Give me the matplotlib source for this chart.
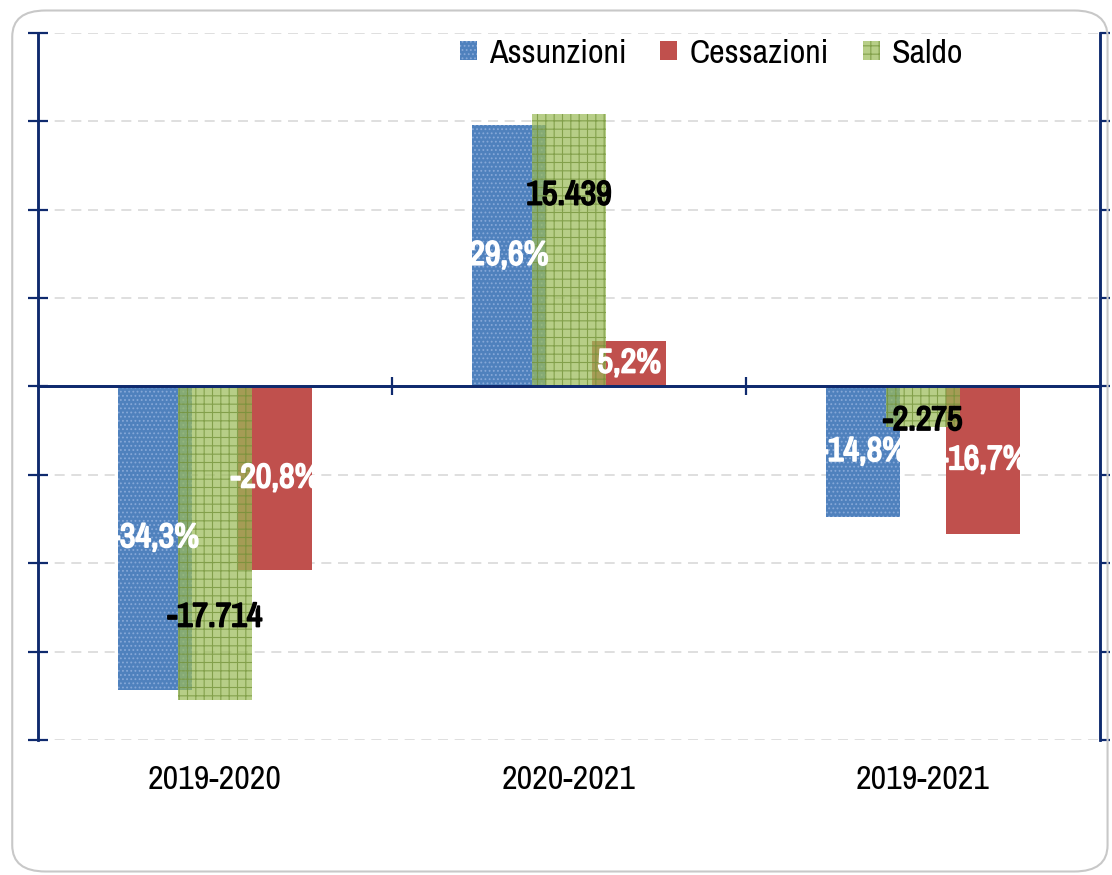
import matplotlib.pyplot as plt
import matplotlib.patheffects as pe
from matplotlib.patches import FancyBboxPatch
import numpy as np

plt.rcParams['font.family'] = ['Archivo Narrow', 'DejaVu Sans']
plt.rcParams['hatch.linewidth'] = 0.8

periodi = ['2019-2020', '2020-2021', '2019-2021']
assunzioni = [-34.3, 29.6, -14.8]   # variazione %
cessazioni = [-20.8, 5.2, -16.7]    # variazione %
saldo = [-17714, 15439, -2275]      # valori assoluti (asse destro)

blu = '#4f81bd'
rosso = '#c0504d'
verde = '#9bbb59'
navy = '#0f2a6e'

x = np.arange(len(periodi))
w = 0.21
off = 0.17

fig = plt.figure(figsize=(11.12, 8.75), dpi=100)
# cornice arrotondata
fig.patches.append(FancyBboxPatch((0.011, 0.004), 0.985, 0.984, boxstyle='round,pad=0,rounding_size=0.03',
                                  transform=fig.transFigure, fc='none', ec='#c8c8c8', lw=1.5))

ax = fig.add_axes([0.0342, 0.1543, 0.955, 0.808])
ax2 = ax.twinx()

ax.bar(x - off, assunzioni, w, color=blu, edgecolor='#86a8d8', linewidth=0, hatch='....', label='Assunzioni')
ax.bar(x + off, cessazioni, w, color=rosso, linewidth=0, label='Cessazioni')
ax2.bar(x, saldo, w, color=verde, edgecolor='#6f8f35', linewidth=0, hatch='++', alpha=0.72, label='Saldo')

ax.set_xlim(-0.5, 2.5)
ax.set_ylim(-40, 40)
ax2.set_ylim(-20000, 20000)
ax.set_yticks(np.arange(-40, 41, 10))
ax2.set_yticks(np.arange(-20000, 20001, 5000))
ax.set_yticklabels([])
ax2.set_yticklabels([])

ax.set_axisbelow(True)
ax.grid(axis='y', color='#d9d9d9', linestyle=(0, (6, 4)), linewidth=1.2)
ax.set_xticks(x)
ax.set_xticklabels(periodi, fontsize=24.5)
ax.tick_params(axis='x', length=0, pad=18)

for a in (ax, ax2):
    a.spines['top'].set_visible(False)
    a.spines['bottom'].set_visible(False)
    a.spines['left'].set_color(navy)
    a.spines['right'].set_color(navy)
    a.spines['left'].set_linewidth(1.8)
    a.spines['right'].set_linewidth(1.8)
ax.tick_params(axis='y', direction='inout', length=14, width=1.6, color=navy)
ax2.tick_params(axis='y', direction='out', length=7, width=1.6, color=navy)

# asse dello zero con tacche tra le categorie
ax2.axhline(0, color=navy, linewidth=2, zorder=5)
zero = ax2.secondary_xaxis(0.5)
for s in zero.spines.values():
    s.set_color(navy)
    s.set_linewidth(2)
zero.set_xticks([])
zero.set_xticks([0.5, 1.5], minor=True)
zero.tick_params(which='minor', direction='inout', length=13, width=1.6, color=navy)
zero.set_zorder(5)

# etichette (grassetto simulato con un contorno)
bold_w = [pe.withStroke(linewidth=1.3, foreground='white')]
bold_k = [pe.withStroke(linewidth=1.3, foreground='black')]
for xi, v in zip(x - off, assunzioni):
    ax2.text(xi, v / 2, f"{v:.1f}%".replace('.', ','), transform=ax.transData, ha='center', va='center',
             color='white', fontsize=24.5, fontweight='bold', zorder=6, path_effects=bold_w)
for xi, v in zip(x + off, cessazioni):
    ax2.text(xi, v / 2, f"{v:.1f}%".replace('.', ','), transform=ax.transData, ha='center', va='center',
             color='white', fontsize=24.5, fontweight='bold', zorder=6, path_effects=bold_w)
for xi, v in zip(x, saldo):
    ax2.annotate(f"{v:,}".replace(',', '.'), (xi, v * 0.72), xytext=(0, -4), textcoords='offset points',
                 ha='center', va='center', color='black', fontsize=24.5, fontweight='bold', zorder=6,
                 path_effects=bold_k)

h1, l1 = ax.get_legend_handles_labels()
h2, l2 = ax2.get_legend_handles_labels()
leg = ax2.legend(h1 + h2, l1 + l2, loc='upper center', bbox_to_anchor=(0.634, 1.035), ncol=3, frameon=False,
                 fontsize=24.5, handlelength=0.5, handleheight=0.5, handletextpad=0.35, columnspacing=1.0)
leg.set_zorder(7)

fig.savefig('out.png', dpi=100)
